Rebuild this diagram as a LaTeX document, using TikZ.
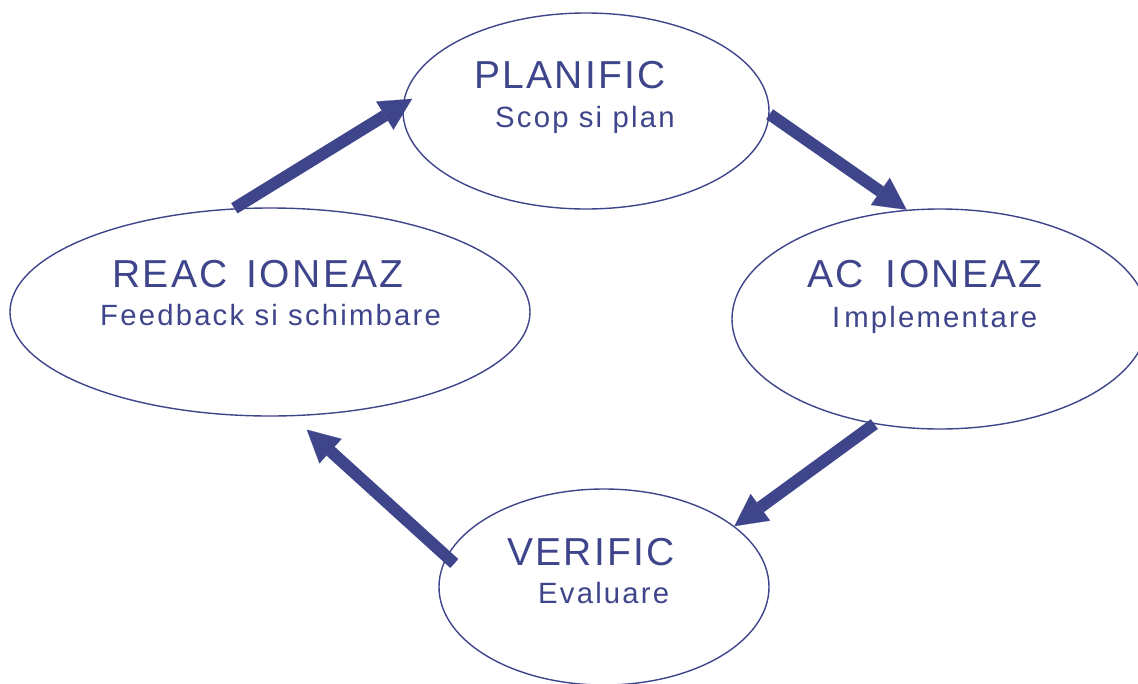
\documentclass[tikz,border=0pt]{standalone}
\usepackage{fontspec}
\setmainfont{Liberation Sans}
\newfontfamily\titlefont{Liberation Sans}[LetterSpace=6]
\newfontfamily\subfont{Liberation Sans}[LetterSpace=7.5]
\usetikzlibrary{arrows.meta,shapes.geometric}
\definecolor{ink}{RGB}{63,69,139}
\begin{document}
\begin{tikzpicture}[x=1pt,y=-1pt,
  phase/.style={ellipse,draw=ink,line width=1.4pt,inner sep=0pt},
  title/.style={anchor=base west,inner sep=0pt,text=ink,font=\titlefont\fontsize{39}{39}\selectfont},
  sub/.style={anchor=base west,inner sep=0pt,text=ink,font=\subfont\fontsize{29.3}{29.3}\selectfont},
  flow/.style={draw=ink,line width=12pt,-{Triangle[length=32pt,width=33pt,line width=0.1pt]},fill=ink}]
\useasboundingbox (0,0) rectangle (1138,683);
\clip (0,0) rectangle (1138,683);
\fill[white] (0,0) rectangle (1138,683);
% ellipses
\node[phase,minimum width=366pt,minimum height=196pt] (plan) at (586,111) {};
\node[phase,minimum width=416pt,minimum height=220pt] (act) at (940,319) {};
\node[phase,minimum width=520pt,minimum height=208pt] (reac) at (270,312) {};
\node[phase,minimum width=330pt,minimum height=196pt] (veri) at (604,587) {};
% texts
\node[title] (planT) at (474,88) {PLANIFIC};
\node[sub] (planS) at (495,127) {Scop si plan};
\node[title] (actT) at (807,287) {AC\hspace{9pt} IONEAZ};
\node[sub] (actS) at (832,327) {I\hspace{4pt}mplementare};
\node[title] (reacT) at (112,287) {REAC\hspace{6pt} IONEAZ};
\node[sub] (reacS) at (100,325) {Feedback si schimbare};
\node[title] (veriT) at (507,565) {VERIFIC};
\node[sub] (veriS) at (538,603) {Evaluare};
% arrows
\draw[flow,shorten >=-11pt] (reac.109.4) -- (plan.178.4);
\draw[flow] (plan.-1) -- (act.107.8);
\draw[flow] (act.238) -- (veri.25.3);
\draw[flow,shorten <=-10.6pt,shorten >=19.8pt] (veri.169.2) -- (reac.-78.3);
\end{tikzpicture}
\end{document}
